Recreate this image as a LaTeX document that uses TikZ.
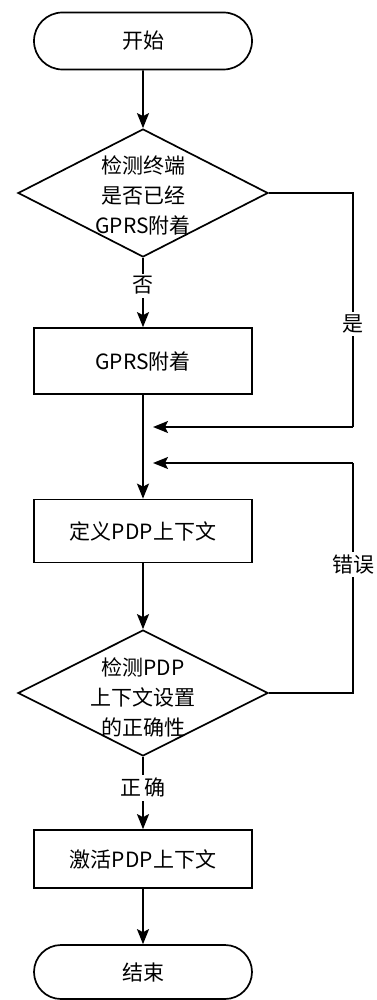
\documentclass[tikz,border=0pt]{standalone}
\usepackage{fontspec}
\setmainfont{Noto Sans CJK SC}
\usetikzlibrary{shapes.geometric,shapes.misc,arrows.meta}
\begin{document}
\begin{tikzpicture}[x=1pt,y=-1pt,
  every node/.style={font=\fontsize{21}{30}\selectfont},
  term/.style={draw,line width=1.7pt,rounded rectangle,minimum width=218pt,minimum height=57pt,inner sep=0pt},
  proc/.style={draw,line width=1.7pt,rectangle,minimum width=218pt,inner sep=0pt},
  dec/.style={draw,line width=1.7pt,diamond,aspect=2,minimum width=250pt,minimum height=128pt,inner sep=0pt},
  dectext/.style={align=center,inner sep=0pt},
  arr/.style={line width=1.7pt,-{Stealth[length=15pt,width=12pt,inset=3pt]}},
  ln/.style={line width=1.7pt},
  lbl/.style={fill=white,inner sep=3pt}]
\useasboundingbox (0,0) rectangle (376,1000);

\node[term] (start) at (143,41) {开始};
\node[dec] (d1) at (143,193) {};
\node[dectext] (t1) at (143,195) {检测终端\\是否已经\\GPRS附着};
\node[proc,minimum height=66pt] (b1) at (143,361) {GPRS附着};
\node[proc,minimum height=63pt] (b2) at (143,531) {定义PDP上下文};
\node[dec,minimum height=126pt] (d2) at (143,693) {};
\node[dectext] (t2) at (143,697) {检测PDP\\上下文设置\\的正确性};
\node[proc,minimum height=58pt] (b3) at (143,859) {激活PDP上下文};
\node[term,minimum height=54pt] (end) at (143,972) {结束};

\coordinate (r1) at (353,427);
\coordinate (m1) at (153,427);
\coordinate (r2) at (353,463);
\coordinate (m2) at (153,463);

\draw[arr] (start) -- (d1);
\draw[arr] (d1.south) -- node[lbl,pos=0.4]{否} (b1.north);
\draw[ln] (d1.east) -| node[lbl,pos=0.78]{是} (r1);
\draw[arr] (r1) -- (m1);
\draw[arr] (b1) -- (b2);
\draw[arr] (b2) -- (d2);
\draw[ln] (d2.east) -| node[lbl,pos=0.78]{错误} (r2);
\draw[arr] (r2) -- (m2);
\draw[arr] (d2.south) -- node[lbl,pos=0.43]{正\,确} (b3.north);
\draw[arr] (b3) -- (end);
\end{tikzpicture}
\end{document}
